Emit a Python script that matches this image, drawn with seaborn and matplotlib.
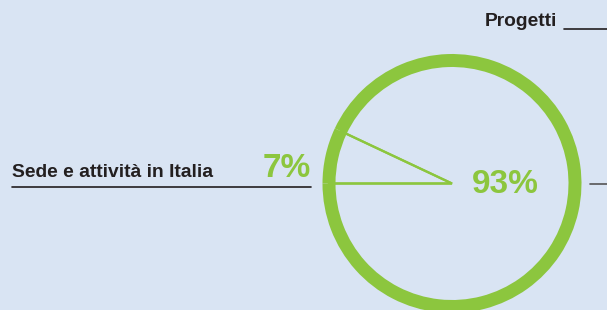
import matplotlib
matplotlib.use("Agg")
import matplotlib.pyplot as plt
import seaborn as sns

# data
categories = ["Sede e attività in Italia", "Progetti"]
shares = [7, 93]

BG = "#d9e4f3"
GREEN = "#8cc63e"
DARK = "#231f20"

sns.set_style("white", {"axes.facecolor": BG, "figure.facecolor": BG})
plt.rcParams["font.family"] = ["Liberation Sans", "DejaVu Sans"]

W, H = 607, 310
fig = plt.figure(figsize=(W / 100, H / 100), dpi=100)
ax = fig.add_axes([0, 0, 1, 1])

cx, cy = 452, H - 183.5
r_out, ring_w = 129.5, 13

# thin slice outlines (radial lines from the centre)
ax.pie(shares, center=(cx, cy), radius=r_out - ring_w / 2, startangle=180,
       counterclock=False, frame=True,
       wedgeprops=dict(facecolor="none", edgecolor=GREEN, linewidth=1.6, zorder=2))
# thick ring on top
ax.pie(shares, center=(cx, cy), radius=r_out, startangle=180, counterclock=False,
       frame=True, colors=[GREEN] * len(shares),
       wedgeprops=dict(width=ring_w, linewidth=0, zorder=3))

ax.set_xlim(0, W)
ax.set_ylim(0, H)
ax.set_aspect("auto")
ax.axis("off")

# percentages
ax.text(311, H - 177, f"{shares[0]}%", color=GREEN, fontsize=24, fontweight="bold",
        ha="right", va="baseline")
ax.text(472, H - 193, f"{shares[1]}%", color=GREEN, fontsize=24, fontweight="bold",
        ha="left", va="baseline")

# category labels with leader lines
ax.text(12, H - 177, categories[0], color=DARK, fontsize=13.9, fontweight="bold",
        ha="left", va="baseline")
ax.plot([12, 311], [H - 187, H - 187], color=DARK, lw=1.2)
ax.text(485, H - 26.5, categories[1], color=DARK, fontsize=13.9, fontweight="bold",
        ha="left", va="baseline")
ax.plot([564, W], [H - 29, H - 29], color=DARK, lw=1.2)
ax.plot([590, W], [H - 184, H - 184], color="#555555", lw=1.2)

fig.savefig("out.png", dpi=100, facecolor=BG)
